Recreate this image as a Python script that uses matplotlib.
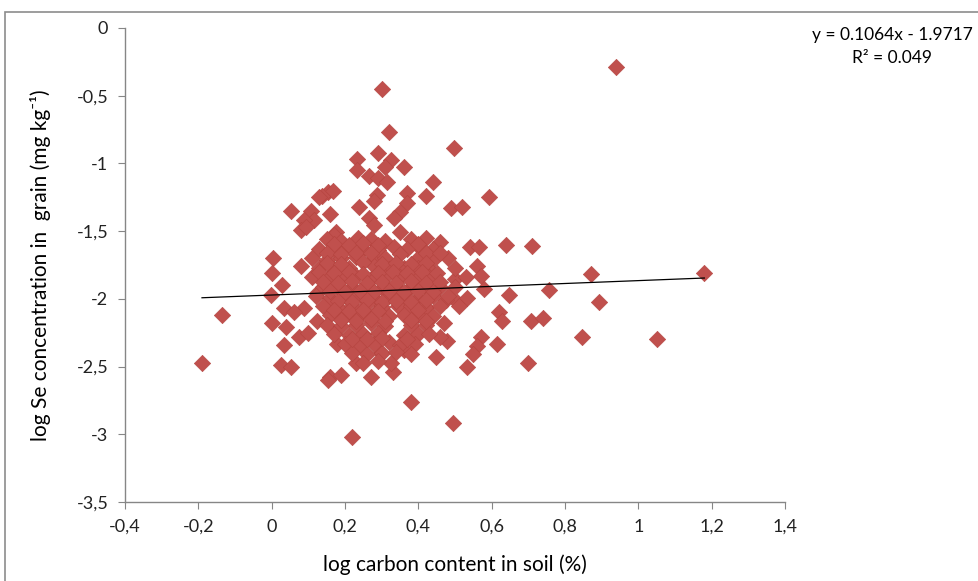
import numpy as np
import matplotlib
matplotlib.use("Agg")
import matplotlib.pyplot as plt
from matplotlib.patches import Rectangle

plt.rcParams['font.family'] = ['Lato', 'DejaVu Sans']

# scattered points (log carbon, log Se)
sparse_x = [0.94, 0.30, 0.319, 0.496, 0.289, 0.232, 0.325, 0.36, 0.31, 0.232, 0.265, 0.29,
            0.314, 0.44, 0.594, 0.42, 0.37, 0.155, 0.166, 0.136, 0.13, 0.286, 0.278, 0.237,
            0.16, 0.488, 0.518, 0.37, 0.35, 0.333, 0.265, 0.278, 0.052, 0.106, 0.115, 0.087,
            0.08, 0.095, 0.175, 0.17, 0.35, 0.46, 0.54, 0.565, 0.64, 0.71,
            0.005, 0.08, 0.0, 0.027, -0.003, -0.136, -0.19, 0.033, 0.0, 0.04, 0.033, 0.025,
            0.052, 0.074, 0.10, 0.087, 0.06, 0.123, 0.177, 0.16, 0.188, 0.123, 0.123,
            0.87, 1.18, 0.755, 0.894, 0.646, 0.62, 0.627, 0.706, 0.739, 0.845, 1.05, 0.614,
            0.57, 0.56, 0.55, 0.532, 0.698, 0.494, 0.56, 0.57, 0.50, 0.58, 0.505, 0.532,
            0.475, 0.478, 0.47, 0.46,
            0.155, 0.27, 0.33, 0.379, 0.218, 0.447, 0.229, 0.325, 0.297, 0.36]
sparse_y = [-0.29, -0.45, -0.77, -0.886, -0.92, -0.97, -0.975, -1.03, -1.03, -1.05, -1.09, -1.11,
            -1.14, -1.14, -1.25, -1.24, -1.22, -1.21, -1.20, -1.24, -1.25, -1.23, -1.28, -1.32,
            -1.37, -1.33, -1.32, -1.29, -1.36, -1.40, -1.40, -1.455, -1.35, -1.35, -1.42, -1.42,
            -1.49, -1.47, -1.51, -1.53, -1.51, -1.58, -1.62, -1.62, -1.60, -1.61,
            -1.70, -1.76, -1.81, -1.90, -1.97, -2.12, -2.47, -2.07, -2.18, -2.21, -2.34, -2.49,
            -2.50, -2.28, -2.25, -2.07, -2.10, -2.16, -2.33, -2.58, -2.56, -1.96, -1.81,
            -1.82, -1.81, -1.935, -2.02, -1.97, -2.10, -2.16, -2.16, -2.14, -2.28, -2.30, -2.33,
            -2.28, -2.35, -2.41, -2.50, -2.47, -2.92, -1.76, -1.83, -1.85, -1.93, -2.02, -1.99,
            -2.01, -2.31, -2.18, -2.28,
            -2.60, -2.58, -2.54, -2.76, -3.02, -2.43, -2.47, -2.47, -2.40, -2.38]

# dense core, read row by row
core_x = [0.15, 0.19, 0.235, 0.27, 0.31, 0.38, 0.42,
          0.13, 0.17, 0.21, 0.25, 0.29, 0.335, 0.37, 0.41, 0.44,
          0.11, 0.15, 0.19, 0.23, 0.275, 0.31, 0.40, 0.44, 0.48,
          0.13, 0.17, 0.21, 0.28, 0.32, 0.36, 0.40, 0.43, 0.50,
          0.11, 0.15, 0.19, 0.23, 0.27, 0.31, 0.35, 0.39, 0.43, 0.53,
          0.14, 0.18, 0.22, 0.26, 0.30, 0.34, 0.38, 0.42, 0.46, 0.50,
          0.12, 0.16, 0.20, 0.245, 0.28, 0.32, 0.36, 0.40, 0.44, 0.48,
          0.14, 0.18, 0.22, 0.26, 0.30, 0.345, 0.38, 0.42, 0.46, 0.51,
          0.16, 0.20, 0.24, 0.28, 0.32, 0.36, 0.40, 0.44,
          0.15, 0.19, 0.23, 0.27, 0.31, 0.38, 0.42,
          0.17, 0.21, 0.25, 0.29, 0.36, 0.40, 0.43,
          0.20, 0.24, 0.28, 0.32, 0.35, 0.39,
          0.22, 0.26, 0.30, 0.34, 0.38,
          0.25, 0.29]
core_y = [-1.56, -1.57, -1.55, -1.56, -1.57, -1.56, -1.55,
          -1.63, -1.64, -1.62, -1.63, -1.64, -1.62, -1.63, -1.64, -1.63,
          -1.70, -1.71, -1.70, -1.69, -1.71, -1.70, -1.70, -1.71, -1.70,
          -1.77, -1.78, -1.77, -1.76, -1.78, -1.77, -1.77, -1.78, -1.77,
          -1.84, -1.85, -1.84, -1.83, -1.85, -1.84, -1.84, -1.85, -1.84, -1.84,
          -1.91, -1.92, -1.91, -1.90, -1.92, -1.91, -1.91, -1.92, -1.91, -1.91,
          -1.98, -1.99, -1.98, -1.97, -1.99, -1.98, -1.98, -1.99, -1.98, -1.98,
          -2.05, -2.06, -2.05, -2.04, -2.06, -2.05, -2.05, -2.06, -2.05, -2.05,
          -2.12, -2.13, -2.12, -2.11, -2.13, -2.12, -2.12, -2.13,
          -2.19, -2.20, -2.19, -2.18, -2.20, -2.19, -2.19,
          -2.26, -2.27, -2.26, -2.25, -2.27, -2.26, -2.26,
          -2.33, -2.34, -2.33, -2.32, -2.34, -2.33,
          -2.40, -2.41, -2.40, -2.39, -2.41,
          -2.47, -2.46]

# extra points filling the gaps of the core
fill_x = [0.17, 0.21, 0.25, 0.29, 0.40,
          0.15, 0.19, 0.23, 0.27, 0.35, 0.42, 0.46,
          0.15, 0.19, 0.25, 0.30, 0.34, 0.38, 0.42,
          0.13, 0.17, 0.21, 0.25, 0.29, 0.33, 0.37, 0.41, 0.45,
          0.14, 0.18, 0.22, 0.26, 0.30, 0.34, 0.38, 0.42, 0.46,
          0.16, 0.20, 0.24, 0.28, 0.32, 0.36, 0.40, 0.44,
          0.18, 0.22, 0.26, 0.30, 0.34, 0.38, 0.42,
          0.17, 0.21, 0.25, 0.29, 0.40,
          0.19, 0.23, 0.27, 0.31, 0.38, 0.42,
          0.22, 0.26, 0.30, 0.37]
fill_y = [-1.595, -1.60, -1.59, -1.60, -1.595,
          -1.665, -1.67, -1.66, -1.665, -1.67, -1.665, -1.66,
          -1.735, -1.74, -1.73, -1.74, -1.735, -1.74, -1.735,
          -1.805, -1.81, -1.80, -1.815, -1.81, -1.80, -1.81, -1.805, -1.81,
          -1.875, -1.88, -1.87, -1.88, -1.875, -1.88, -1.87, -1.88, -1.875,
          -1.945, -1.95, -1.94, -1.95, -1.945, -1.95, -1.94, -1.95,
          -2.015, -2.02, -2.01, -2.02, -2.015, -2.02, -2.01,
          -2.085, -2.09, -2.08, -2.09, -2.085,
          -2.155, -2.16, -2.15, -2.16, -2.155, -2.16,
          -2.295, -2.30, -2.29, -2.30]

slope, intercept = 0.1064, -1.9717
x_ticks = [-0.4, -0.2, 0, 0.2, 0.4, 0.6, 0.8, 1, 1.2, 1.4]
y_ticks = [0, -0.5, -1, -1.5, -2, -2.5, -3, -3.5]


def comma(v):
    return ('%g' % v).replace('.', ',')


xs = sparse_x + core_x + fill_x
ys = sparse_y + core_y + fill_y

fig = plt.figure(figsize=(9.79, 5.81), dpi=100)
ax = fig.add_axes([125 / 979, 79 / 581, 660 / 979, 474 / 581])

ax.scatter(xs, ys, marker='D', s=70, c='#C0504D', edgecolors='#B5443F',
           linewidths=0.4, zorder=2)

lx = np.array([min(xs), max(xs)])
ax.plot(lx, slope * lx + intercept, color='black', lw=0.9, zorder=3)

ax.set_xlim(-0.4, 1.4)
ax.set_ylim(-3.5, 0)
ax.set_xticks(x_ticks)
ax.set_xticklabels([comma(v) for v in x_ticks])
ax.set_yticks(y_ticks)
ax.set_yticklabels([comma(v) for v in y_ticks])

for s in ['top', 'right']:
    ax.spines[s].set_visible(False)
for s in ['left', 'bottom']:
    ax.spines[s].set_color('#868686')
    ax.spines[s].set_linewidth(1.0)
ax.tick_params(direction='out', length=5, color='#868686', labelsize=13,
               labelcolor='#222222')
ax.tick_params(axis='x', pad=7)
ax.tick_params(axis='y', pad=7)

ax.set_xlabel('log carbon content in soil (%)', fontsize=15, labelpad=14)
ax.set_ylabel('log Se concentration in  grain (mg kg⁻¹)', fontsize=15, labelpad=18)

fig.text(892 / 979, 1 - 35 / 581, 'y = 0.1064x - 1.9717', ha='center', va='center',
         fontsize=12.5)
fig.text(892 / 979, 1 - 58 / 581, 'R² = 0.049', ha='center', va='center', fontsize=12.5)

fig.patches.append(Rectangle((5 / 979, -0.1), 1.2, 1 - 12 / 581 + 0.1,
                             transform=fig.transFigure, fill=False,
                             edgecolor='#8c8c8c', lw=1.2))

fig.savefig('out.png', dpi=100)
